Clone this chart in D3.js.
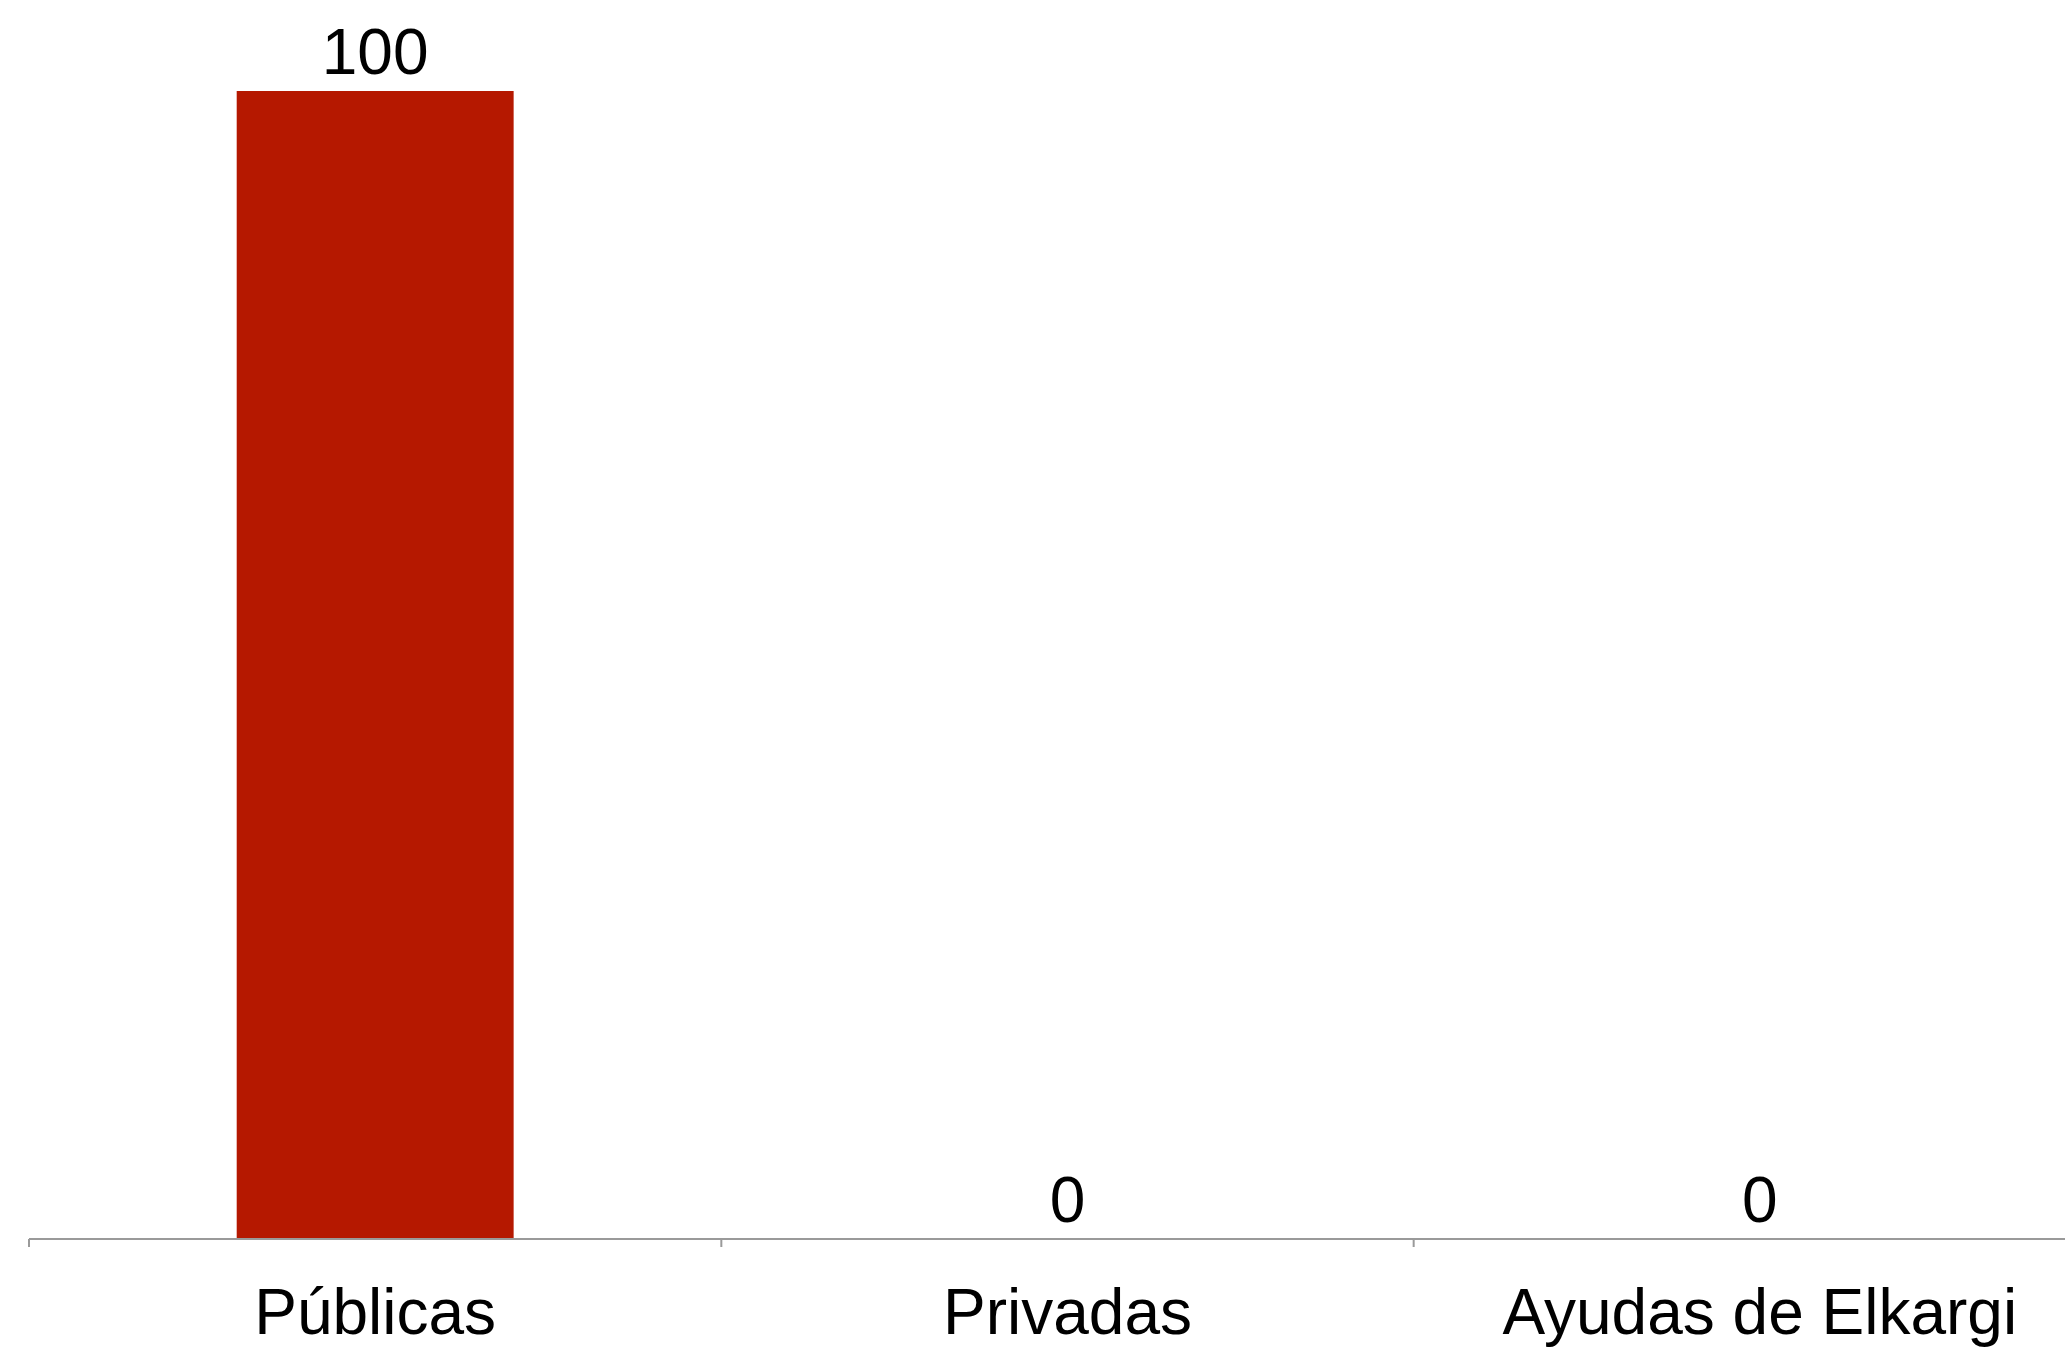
<!DOCTYPE html>
<html>
<head>
<meta charset="utf-8">
<script src="https://cdn.jsdelivr.net/npm/d3@7"></script>
<style>
  html, body { margin: 0; padding: 0; background: #ffffff; overflow: hidden; }
  text { font-family: "Liberation Sans", Arial, sans-serif; }
</style>
</head>
<body>
<svg id="chart" width="2065" height="1349"></svg>
<script>
const categories = ["Públicas", "Privadas", "Ayudas de Elkargi"];
const values = [100, 0, 0];
const valueLabels = ["100", "0", "0"];

const svg = d3.select("#chart");
const axisY = 1239;

const x = d3.scaleBand()
  .domain(categories)
  .range([29, 2106])
  .paddingInner(0.6)
  .paddingOuter(0.3);

const y = d3.scaleLinear()
  .domain([0, 100])
  .range([axisY, 91]);

const step = x.step();

// bars
svg.append("g").selectAll("rect")
  .data(categories)
  .join("rect")
  .attr("x", d => x(d))
  .attr("width", x.bandwidth())
  .attr("y", (d, i) => y(values[i]))
  .attr("height", (d, i) => y(0) - y(values[i]))
  .attr("fill", "#b51800");

// axis line
const axisG = svg.append("g");
axisG.append("line")
  .attr("x1", x.range()[0]).attr("x2", x.range()[1])
  .attr("y1", axisY).attr("y2", axisY)
  .attr("stroke", "#9a9a9a").attr("stroke-width", 2);

// ticks at band boundaries
const tickPos = categories.map(c => x(c) - x.paddingOuter() * step);
axisG.selectAll("line.tick")
  .data(tickPos)
  .join("line")
  .attr("class", "tick")
  .attr("x1", d => d).attr("x2", d => d)
  .attr("y1", axisY).attr("y2", axisY + 8)
  .attr("stroke", "#9a9a9a").attr("stroke-width", 2);

// category labels
svg.append("g").selectAll("text")
  .data(categories)
  .join("text")
  .attr("x", d => x(d) + x.bandwidth() / 2)
  .attr("y", 1334)
  .attr("text-anchor", "middle")
  .attr("font-size", 64)
  .attr("fill", "#000")
  .text(d => d);

// value labels
svg.append("g").selectAll("text")
  .data(categories)
  .join("text")
  .attr("x", d => x(d) + x.bandwidth() / 2)
  .attr("y", (d, i) => y(values[i]) - 17)
  .attr("text-anchor", "middle")
  .attr("font-size", 64)
  .attr("fill", "#000")
  .text((d, i) => valueLabels[i]);
</script>
</body>
</html>
